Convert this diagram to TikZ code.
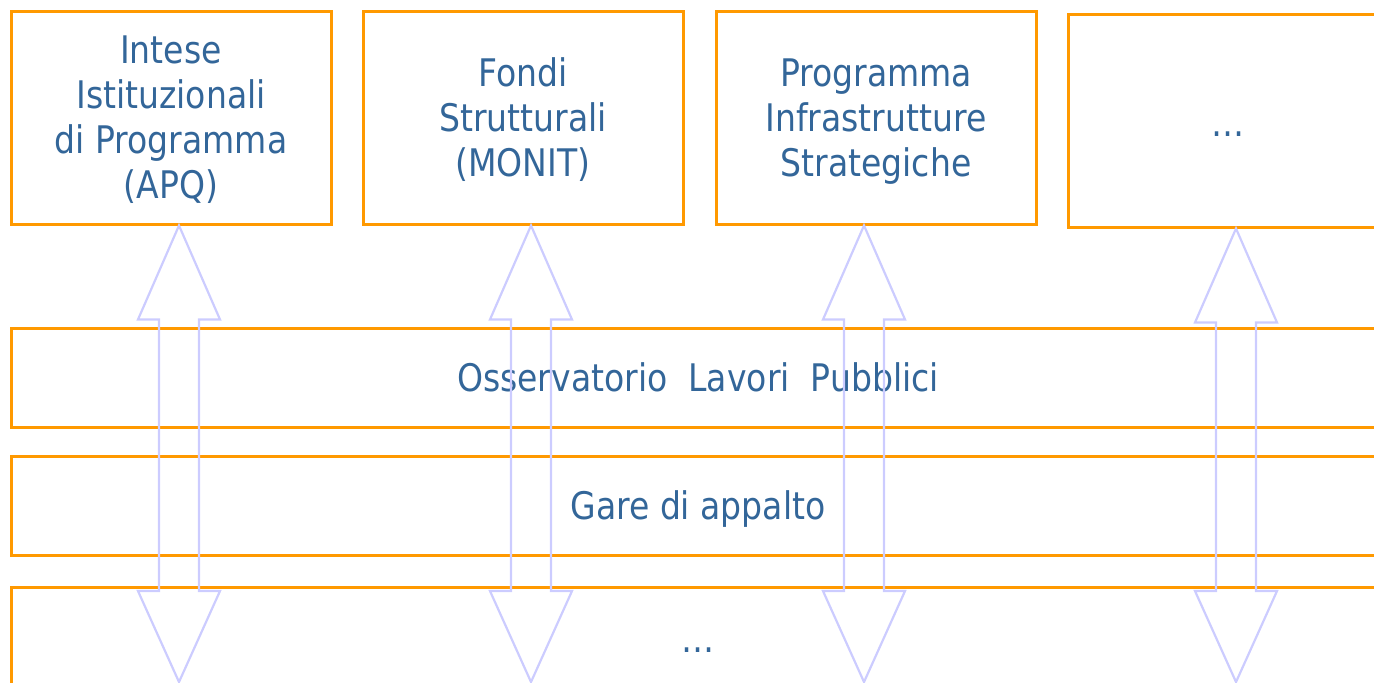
\documentclass[tikz,border=0pt]{standalone}
\usepackage{fontspec}
\setmainfont{DejaVu Sans}[FakeStretch=0.87]
\usetikzlibrary{calc}
\definecolor{boxorange}{HTML}{FF9900}
\definecolor{arrowlilac}{HTML}{CCCCFF}
\definecolor{textblue}{HTML}{336699}

\begin{document}
\begin{tikzpicture}[x=0.5pt, y=-0.5pt,
    progbox/.style={rectangle, draw=boxorange, line width=1.5pt, minimum width=160pt, minimum height=106.5pt, align=center, text depth=0pt, text=textblue, font=\fontsize{19}{22.5}\selectfont},
    layerbox/.style={rectangle, draw=boxorange, line width=1.5pt, minimum width=687pt, minimum height=49.5pt, align=center, text depth=0pt, text=textblue, font=\fontsize{19}{22.5}\selectfont},
    dblarrow/.style={draw=arrowlilac, line width=1.1pt, line join=miter}]
      \useasboundingbox (0,0) rectangle (1374,682);
      \clip (0,0) rectangle (1374,682);

      \node[progbox] (ipq) at (171,117.5) {Intese\\Istituzionali\\di Programma\\(APQ)};
      \node[progbox] (fondi) at (523,117.5) {Fondi\\Strutturali\\(MONIT)};
      \node[progbox] (pis) at (876,117.5) {Programma\\Infrastrutture\\Strategiche};
      \node[progbox] (altro) at (1228,120.5) {\strut …};

      \node[layerbox] (osserv) at (698,377.5) {Osservatorio\ \ Lavori\ \ Pubblici};
      \node[layerbox] (gare) at (698,505.5) {Gare di appalto};
      \node[layerbox] (altri) at (698,636.5) {\strut …};

      \draw[dblarrow] ($(ipq.south)+(8,0)$) -- ++(41,94) -- ++(-21,0) -- ++(0,271.5) -- ++(21,0) -- ++(-41,91) -- ++(-41,-91) -- ++(21,0) -- ++(0,-271.5) -- ++(-21,0) -- cycle;
      \draw[dblarrow] ($(fondi.south)+(8,0)$) -- ++(41,94) -- ++(-21,0) -- ++(0,271.5) -- ++(21,0) -- ++(-41,91) -- ++(-41,-91) -- ++(21,0) -- ++(0,-271.5) -- ++(-21,0) -- cycle;
      \draw[dblarrow] ($(pis.south)+(-12,0)$) -- ++(41,94) -- ++(-21,0) -- ++(0,271.5) -- ++(21,0) -- ++(-41,91) -- ++(-41,-91) -- ++(21,0) -- ++(0,-271.5) -- ++(-21,0) -- cycle;
      \draw[dblarrow] ($(altro.south)+(8,0)$) -- ++(41,94) -- ++(-21,0) -- ++(0,268.5) -- ++(21,0) -- ++(-41,91) -- ++(-41,-91) -- ++(21,0) -- ++(0,-268.5) -- ++(-21,0) -- cycle;
\end{tikzpicture}
\end{document}
